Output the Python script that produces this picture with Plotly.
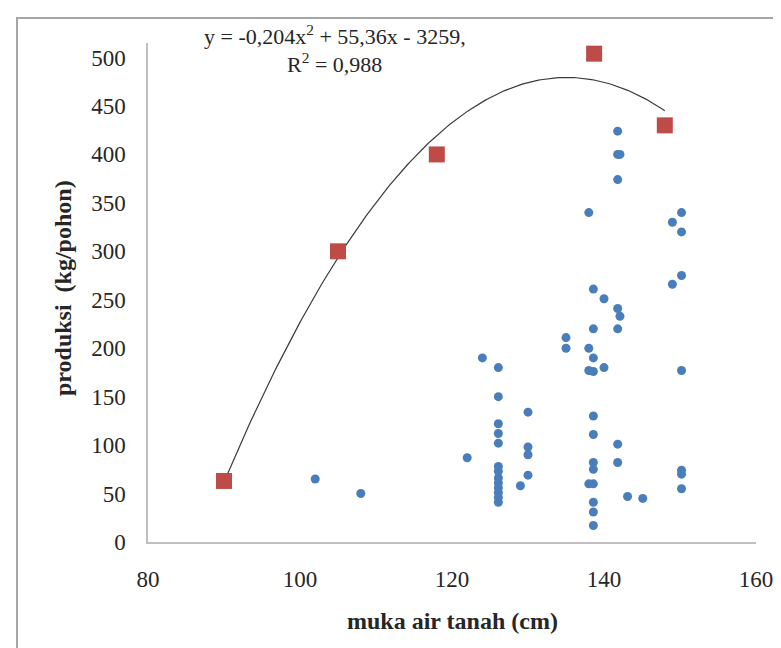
import numpy as np
import plotly.graph_objects as go

# Observed points (blue)
obs_x = [102, 108, 122, 124,
         126.1, 126.1, 126.1, 126.1, 126.1, 126.1, 126.1, 126.1, 126.1, 126.1, 126.1, 126.1, 126.1,
         129, 130, 130, 130, 130,
         135, 135,
         138, 138.6, 140, 138.6, 138, 138.6, 138, 138.6, 140, 138.6, 138.6, 138.6, 138.6, 138, 138.6, 138.6, 138.6, 138.6,
         141.8, 141.8, 142.1, 141.8, 141.8, 142.1, 141.8, 141.8, 141.8,
         143.1, 145.1,
         149, 150.2, 150.2, 150.2, 149, 150.2, 150.2, 150.2, 150.2]
obs_y = [65, 50, 87, 190,
         180, 150, 122, 112, 102, 78, 73, 66, 61, 56, 51, 46, 41,
         58, 134, 98, 90, 69,
         211, 200,
         340, 261, 251, 220, 200, 190, 177, 176, 180, 130, 111, 82, 75, 60, 60, 41, 31, 17,
         424, 400, 400, 374, 241, 233, 220, 101, 82,
         47, 45,
         330, 340, 320, 275, 266, 177, 74, 70, 55]

# Mean points (red squares)
mean_x = [90, 105, 118, 138.7, 148]
mean_y = [63, 300, 400, 504, 430]

y_ticks = [0, 50, 100, 150, 200, 250, 300, 350, 400, 450, 500]
x_ticks = [80, 100, 120, 140, 160]

eq_line1 = "y = -0,204x<sup>2</sup> + 55,36x - 3259,"
eq_line2 = "R<sup>2</sup> = 0,988"

coef = np.polyfit(mean_x, mean_y, 2)
tx = np.linspace(min(mean_x), max(mean_x), 200)
ty = np.polyval(coef, tx)

FONT = "Liberation Serif"
TXT = "#262626"
FS = 23

fig = go.Figure()
fig.add_trace(go.Scatter(x=obs_x, y=obs_y, mode="markers",
                         marker=dict(color="#4A7EBB", size=9, line=dict(width=0)),
                         showlegend=False, hoverinfo="skip"))
fig.add_trace(go.Scatter(x=tx, y=ty, mode="lines",
                         line=dict(color="#3a3a3a", width=1.2),
                         showlegend=False, hoverinfo="skip"))
fig.add_trace(go.Scatter(x=mean_x, y=mean_y, mode="markers",
                         marker=dict(color="#BE4B48", size=16, symbol="square", line=dict(width=0)),
                         showlegend=False, hoverinfo="skip"))

L, R, T, B = 140, 33, 35, 114
W, H = 781, 648
pw = W - L - R
ph = H - T - B

def px(x):
    return (x - L) / pw

def py(y):
    return (H - B - y) / ph

fig.update_layout(
    width=W, height=H,
    margin=dict(l=L, r=R, t=T, b=B, pad=0),
    paper_bgcolor="white", plot_bgcolor="white",
    font=dict(family=FONT, size=FS, color=TXT),
    xaxis=dict(range=[80, 160], tickvals=x_ticks, showgrid=False, zeroline=False,
               showline=True, linecolor="#BFBFBF", linewidth=1.5,
               ticks="", ticklabelstandoff=16, tickfont=dict(family=FONT, size=FS, color=TXT)),
    yaxis=dict(range=[0, 515], tickvals=y_ticks, showgrid=False, zeroline=False,
               showline=True, linecolor="#BFBFBF", linewidth=1.5,
               ticks="", ticklabelstandoff=16, tickfont=dict(family=FONT, size=FS, color=TXT)),
    annotations=[
        dict(text=eq_line1, x=px(327), y=py(27), xref="paper", yref="paper",
             xanchor="center", yanchor="middle", showarrow=False,
             font=dict(family=FONT, size=22, color=TXT)),
        dict(text=eq_line2, x=px(326), y=py(55), xref="paper", yref="paper",
             xanchor="center", yanchor="middle", showarrow=False,
             font=dict(family=FONT, size=22, color=TXT)),
        dict(text="<b>muka air tanah (cm)</b>", x=0.5, y=py(613), xref="paper", yref="paper",
             xanchor="center", yanchor="middle", showarrow=False,
             font=dict(family=FONT, size=24, color=TXT)),
        dict(text="<b>produksi  (kg/pohon)</b>", x=px(55), y=py(280), xref="paper", yref="paper",
             xanchor="center", yanchor="middle", showarrow=False, textangle=-90,
             font=dict(family=FONT, size=24, color=TXT)),
    ],
    shapes=[
        dict(type="rect", xref="paper", yref="paper",
             x0=px(9), x1=px(779), y0=py(10), y1=py(670),
             line=dict(color="#A6A6A6", width=2), layer="below"),
    ],
)

fig.write_html("out.html")
